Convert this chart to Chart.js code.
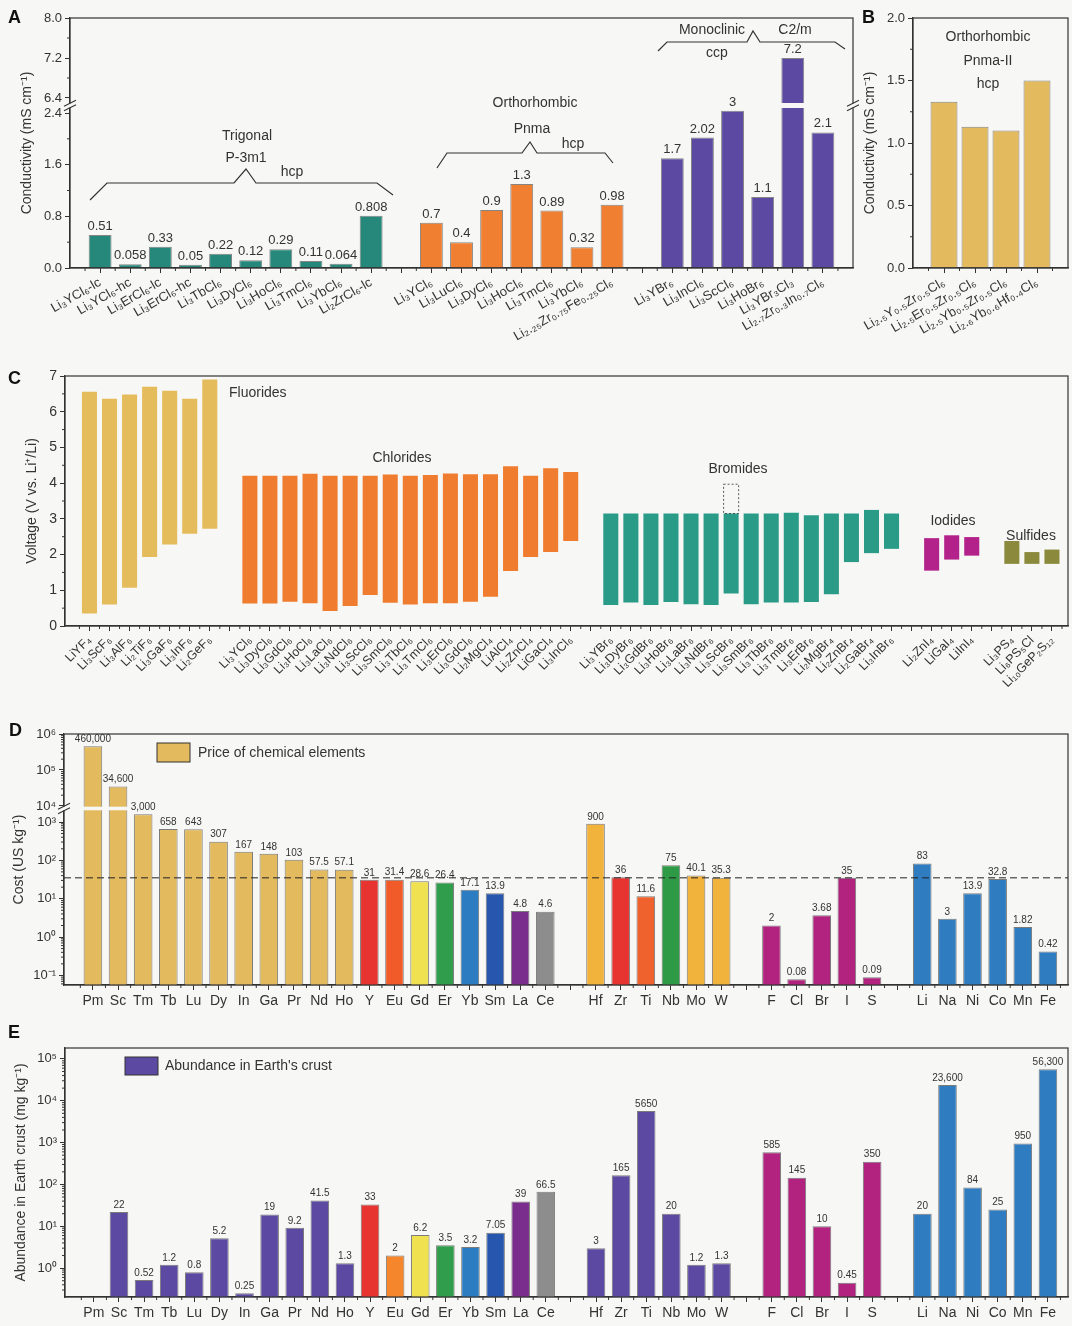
<!DOCTYPE html>
<html>
<head>
<meta charset="utf-8">
<script src="https://cdn.jsdelivr.net/npm/chart.js@4.4.1/dist/chart.umd.min.js"></script>
<style>
  html, body { margin: 0; padding: 0; background: #f7f7f5; }
  #page { position: relative; width: 1072px; height: 1326px; overflow: hidden; }
  canvas { position: absolute; }
  .tag { position: absolute; font: bold 18px "Liberation Sans", Arial, sans-serif; color: #111; line-height: 18px; }
</style>
</head>
<body>
<div id="page">
  <canvas id="cA" width="862" height="360" style="left:0;top:0;width:862px;height:360px"></canvas>
  <canvas id="cB" width="210" height="360" style="left:862px;top:0;width:210px;height:360px"></canvas>
  <canvas id="cC" width="1072" height="355" style="left:0;top:365px;width:1072px;height:355px"></canvas>
  <canvas id="cD" width="1072" height="300" style="left:0;top:720px;width:1072px;height:300px"></canvas>
  <canvas id="cE" width="1072" height="306" style="left:0;top:1020px;width:1072px;height:306px"></canvas>
  <div class="tag" style="left:8px;top:8px">A</div>
  <div class="tag" style="left:862px;top:8px">B</div>
  <div class="tag" style="left:8px;top:369px">C</div>
  <div class="tag" style="left:9px;top:721px">D</div>
  <div class="tag" style="left:8px;top:1023px">E</div>
</div>
<script>
// ---------------- data ----------------
// A: ionic conductivity (mS cm-1) of halide electrolytes, grouped by structure
const trigonalNames = ['Li₃YCl₆-lc', 'Li₃YCl₆-hc', 'Li₃ErCl₆-lc', 'Li₃ErCl₆-hc', 'Li₃TbCl₆', 'Li₃DyCl₆', 'Li₃HoCl₆', 'Li₃TmCl₆', 'Li₃YbCl₆', 'Li₂ZrCl₆-lc'];
const trigonalValues = [0.51, 0.058, 0.33, 0.05, 0.22, 0.12, 0.29, 0.11, 0.064, 0.808];
const orthoNames = ['Li₃YCl₆', 'Li₃LuCl₆', 'Li₃DyCl₆', 'Li₃HoCl₆', 'Li₃TmCl₆', 'Li₃YbCl₆', 'Li₂.₂₅Zr₀.₇₅Fe₀.₂₅Cl₆'];
const orthoValues = [0.7, 0.4, 0.9, 1.3, 0.89, 0.32, 0.98];
const monoNames = ['Li₃YBr₆', 'Li₃InCl₆', 'Li₃ScCl₆', 'Li₃HoBr₆', 'Li₃YBr₃Cl₃', 'Li₂.₇Zr₀.₃In₀.₇Cl₆'];
const monoValues = [1.7, 2.02, 3, 1.1, 7.2, 2.1];
const condTicksA = [0, 0.8, 1.6, 2.4, 6.4, 7.2, 8.0];

// B: Pnma-II orthorhombic phases
const pnma2Names = ['Li₂.₅Y₀.₅Zr₀.₅Cl₆', 'Li₂.₅Er₀.₅Zr₀.₅Cl₆', 'Li₂.₅Yb₀.₅Zr₀.₅Cl₆', 'Li₂.₆Yb₀.₆Hf₀.₄Cl₆'];
const pnma2Values = [1.33, 1.13, 1.10, 1.50];
const condTicksB = [0, 0.5, 1.0, 1.5, 2.0];

// C: electrochemical stability windows (V vs. Li+/Li)
const fluorideNames = ['LiYF₄', 'Li₃ScF₆', 'Li₃AlF₆', 'Li₂TiF₆', 'Li₃GaF₆', 'Li₃InF₆', 'Li₂GeF₆'];
const fluorideLow = [0.35, 0.60, 1.07, 1.93, 2.28, 2.58, 2.72];
const fluorideHigh = [6.56, 6.36, 6.48, 6.70, 6.59, 6.36, 6.90];
const chlorideNames = ['Li₃YCl₆', 'Li₃DyCl₆', 'Li₃GdCl₆', 'Li₃HoCl₆', 'Li₃LaCl₆', 'Li₃NdCl₆', 'Li₃ScCl₆', 'Li₃SmCl₆', 'Li₃TbCl₆', 'Li₃TmCl₆', 'Li₃ErCl₆', 'Li₃GdCl₆', 'Li₂MgCl₄', 'LiAlCl₄', 'Li₂ZnCl₄', 'LiGaCl₄', 'Li₃InCl₆'];
const chlorideLow = [0.63, 0.63, 0.68, 0.64, 0.42, 0.56, 0.87, 0.65, 0.60, 0.64, 0.64, 0.68, 0.82, 1.54, 1.93, 2.07, 2.38];
const chlorideHigh = [4.21, 4.21, 4.21, 4.26, 4.21, 4.21, 4.21, 4.24, 4.21, 4.23, 4.27, 4.25, 4.25, 4.47, 4.21, 4.42, 4.31];
const bromideNames = ['Li₃YBr₆', 'Li₃DyBr₆', 'Li₃GdBr₆', 'Li₃HoBr₆', 'Li₃LaBr₆', 'Li₃NdBr₆', 'Li₃ScBr₆', 'Li₃SmBr₆', 'Li₃TbBr₆', 'Li₃TmBr₆', 'Li₃ErBr₆', 'Li₂MgBr₄', 'Li₂ZnBr₄', 'Li₂GaBr₄', 'Li₃InBr₆'];
const bromideLow = [0.59, 0.66, 0.59, 0.67, 0.61, 0.59, 0.91, 0.61, 0.66, 0.66, 0.67, 0.89, 1.79, 2.04, 2.16];
const bromideHigh = [3.15, 3.15, 3.15, 3.15, 3.15, 3.15, 3.15, 3.15, 3.15, 3.17, 3.10, 3.15, 3.15, 3.25, 3.15];
const scBromideExtendedHigh = 3.97;   // Li3ScBr6 upper limit (dashed)
const iodideNames = ['Li₂ZnI₄', 'LiGaI₄', 'LiInI₄'];
const iodideLow = [1.55, 1.86, 1.97];
const iodideHigh = [2.46, 2.54, 2.49];
const sulfideNames = ['Li₃PS₄', 'Li₆PS₅Cl', 'Li₁₀GeP₂S₁₂'];
const sulfideLow = [1.74, 1.74, 1.74];
const sulfideHigh = [2.38, 2.07, 2.14];
const voltTicks = [0, 1, 2, 3, 4, 5, 6, 7];

// D / E: element price (US$ kg-1) and crustal abundance (mg kg-1)
const rareEarthEls = ['Pm', 'Sc', 'Tm', 'Tb', 'Lu', 'Dy', 'In', 'Ga', 'Pr', 'Nd', 'Ho', 'Y', 'Eu', 'Gd', 'Er', 'Yb', 'Sm', 'La', 'Ce'];
const transitionEls = ['Hf', 'Zr', 'Ti', 'Nb', 'Mo', 'W'];
const anionEls = ['F', 'Cl', 'Br', 'I', 'S'];
const commonEls = ['Li', 'Na', 'Ni', 'Co', 'Mn', 'Fe'];
const rareEarthPrice = [460000, 34600, 3000, 658, 643, 307, 167, 148, 103, 57.5, 57.1, 31, 31.4, 28.6, 26.4, 17.1, 13.9, 4.8, 4.6];
const transitionPrice = [900, 36, 11.6, 75, 40.1, 35.3];
const anionPrice = [2, 0.08, 3.68, 35, 0.09];
const commonPrice = [83, 3, 13.9, 32.8, 1.82, 0.42];
const priceReference = 35;
const rareEarthAbund = [null, 22, 0.52, 1.2, 0.8, 5.2, 0.25, 19, 9.2, 41.5, 1.3, 33, 2, 6.2, 3.5, 3.2, 7.05, 39, 66.5];
const transitionAbund = [3, 165, 5650, 20, 1.2, 1.3];
const anionAbund = [585, 145, 10, 0.45, 350];
const commonAbund = [20, 23600, 84, 25, 950, 56300];
const priceTicks = [0.1, 1, 10, 100, 1000, 10000, 100000, 1000000];
const abundTicks = [1, 10, 100, 1000, 10000, 100000];

// ---------------- styles ----------------
const INK = '#333333';
const BG = '#f7f7f5';
const FONT = '"Liberation Sans", Arial, Helvetica, sans-serif';
const TEAL = '#25887b', ORANGE = '#f07f31', PURPLE = '#5c4aa2', GOLD = '#e3ba5e';
const C_F = '#e5bc5c', C_CL = '#f07c2f', C_BR = '#2a9b87', C_I = '#b2228a', C_S = '#8b8a3c';
const RE_PRICE_COLORS = [GOLD, GOLD, GOLD, GOLD, GOLD, GOLD, GOLD, GOLD, GOLD, GOLD, GOLD,
  '#e83430', '#f15b2a', '#efe14f', '#2f9d4b', '#2c7cc2', '#2656ae', '#7a2d8c', '#8d8d8d'];
const RE_ABUND_COLORS = [PURPLE, PURPLE, PURPLE, PURPLE, PURPLE, PURPLE, PURPLE, PURPLE, PURPLE, PURPLE, PURPLE,
  '#e83430', '#f5862b', '#efe14f', '#2f9d4b', '#2c7cc2', '#2656ae', '#7a2d8c', '#8d8d8d'];
const TM_PRICE_COLORS = ['#f2b33d', '#e83430', '#f0622d', '#2f9a45', '#f2b33d', '#f2b33d'];
const ANION_COLOR = '#b1237f', COMMON_COLOR = '#2f7cc1';

Chart.defaults.font.family = FONT;
Chart.defaults.color = INK;
Chart.defaults.animation = false;

// Linear/log axis made of stacked segments; used for broken axes and
// for category-like positioning with explicit tick values.
class SegmentedScale extends Chart.LinearScale {
  static id = 'segmented';
  static defaults = {};
  determineDataLimits() { this.min = this.options.min; this.max = this.options.max; }
  buildTicks() { return (this.options.tickValues || []).map(v => ({ value: v })); }
  _tf(v) { return this.options.log ? Math.log10(v > 0 ? v : this.options.min) : v; }
  _segs() {
    const o = this.options;
    return o.segments || [{ from: this._tf(o.min), to: this._tf(o.max), size: 1 }];
  }
  getPixelForValue(value) {
    if (value === null || value === undefined || Number.isNaN(+value)) return NaN;
    const t = this._tf(+value);
    const segs = this._segs();
    const total = segs.reduce((s, g) => s + g.size, 0);
    let acc = 0, dec = 1;
    for (let i = 0; i < segs.length; i++) {
      const g = segs[i];
      if (t <= g.to || i === segs.length - 1) { dec = (acc + (t - g.from) / (g.to - g.from) * g.size) / total; break; }
      acc += g.size;
    }
    return this.getPixelForDecimal(dec);
  }
  getValueForPixel(pixel) {
    const dec = this.getDecimalForPixel(pixel);
    const segs = this._segs();
    const total = segs.reduce((s, g) => s + g.size, 0);
    let acc = 0, t = segs[segs.length - 1].to;
    for (const g of segs) {
      const f = g.size / total;
      if (dec <= acc + f) { t = g.from + (dec - acc) / f * (g.to - g.from); break; }
      acc += f;
    }
    return this.options.log ? Math.pow(10, t) : t;
  }
}
Chart.register(SegmentedScale);

// ---------------- helpers ----------------
function layoutGroups(groups) {
  // groups sit on consecutive integer slots with one empty slot between them
  const points = [], colors = [], names = {};
  let pos = 0;
  groups.forEach((g, gi) => {
    if (gi > 0) { names[pos] = ''; pos += 1; }
    g.names.forEach((n, i) => {
      names[pos] = n;
      points.push({ x: pos, y: g.values[i] });
      colors.push(Array.isArray(g.color) ? g.color[i] : g.color);
      pos += 1;
    });
  });
  return { points, colors, names, last: pos - 1 };
}
const steps = (a, b, s) => { const out = []; for (let v = a; v <= b + 1e-9; v += s) out.push(+v.toFixed(6)); return out; };
function logMinors(lo, hi) {
  const out = [];
  for (let d = -3; d <= 6; d++) for (let m = 2; m <= 9; m++) { const v = m * Math.pow(10, d); if (v > lo && v < hi) out.push(v); }
  return out;
}
const SUP = { '-': '⁻', '0': '⁰', '1': '¹', '2': '²', '3': '³', '4': '⁴', '5': '⁵', '6': '⁶', '7': '⁷', '8': '⁸', '9': '⁹' };
const powLabel = v => '10' + String(Math.round(Math.log10(v))).split('').map(c => SUP[c]).join('');

function xAxis(layout, min, max, opts) {
  return {
    type: 'segmented', position: 'bottom', min, max, offset: false,
    tickValues: steps(0, layout.last, 1),
    grid: { offset: false, drawOnChartArea: false, drawTicks: true, tickLength: 5, color: INK, tickColor: INK },
    border: { display: true, color: INK, width: 1.2 },
    ticks: Object.assign({ autoSkip: false, color: INK, padding: 2, callback: v => layout.names[v] || '' }, opts.ticks),
    afterFit: s => { s.height = opts.height; s.paddingLeft = 0; s.paddingRight = 0; }
  };
}
function yAxis(opts) {
  return Object.assign({
    type: 'segmented', position: 'left',
    grid: { drawOnChartArea: false, drawTicks: true, tickLength: 5, color: INK, tickColor: INK },
    border: { display: true, color: INK, width: 1.2 },
    title: { display: true, text: opts.title, font: { size: 14 }, color: INK, padding: { top: opts.titlePad, bottom: 0 } },
    afterFit: s => { s.width = opts.width; s.paddingTop = 0; s.paddingBottom = 0; }
  }, opts.scale, {
    ticks: Object.assign({ autoSkip: false, color: INK, padding: 3, font: { size: 13 } }, opts.ticks)
  });
}

function decor(spec) {
  return {
    id: 'decor',
    afterDatasetsDraw(chart) {
      const { ctx, chartArea: ca, scales } = chart;
      const xs = scales.x, ys = scales.y;
      ctx.save();
      (spec.breaks || []).forEach(b => {
        const py = ys.getPixelForValue(b.value);
        ctx.fillStyle = BG;
        ctx.fillRect(ca.left + 1, py - b.half, ca.right - ca.left - 2, b.half * 2);
      });
      ctx.strokeStyle = INK; ctx.lineWidth = 1.2;
      ctx.strokeRect(ca.left, ca.top, ca.right - ca.left, ca.bottom - ca.top);
      ctx.lineWidth = 1;
      ctx.beginPath();
      (spec.minorX || []).forEach(v => { const px = xs.getPixelForValue(v); ctx.moveTo(px, ca.bottom); ctx.lineTo(px, ca.bottom + 3); });
      (spec.minorY || []).forEach(v => { const py = ys.getPixelForValue(v); ctx.moveTo(ca.left - 3, py); ctx.lineTo(ca.left, py); });
      ctx.stroke();
      (spec.breaks || []).forEach(b => {
        const py = ys.getPixelForValue(b.value);
        (b.sides || ['left']).forEach(side => {
          const x = side === 'left' ? ca.left : ca.right;
          ctx.fillStyle = BG;
          ctx.fillRect(x - 2, py - 2, 4, 4);
          ctx.beginPath();
          [-2.2, 2.2].forEach(d => { ctx.moveTo(x - 6, py + d + 3); ctx.lineTo(x + 6, py + d - 3); });
          ctx.strokeStyle = INK; ctx.lineWidth = 1.1; ctx.stroke();
        });
      });
      if (spec.labels) {
        const meta = chart.getDatasetMeta(0);
        ctx.font = spec.labelFont; ctx.fillStyle = INK;
        ctx.textAlign = 'center'; ctx.textBaseline = 'bottom';
        meta.data.forEach((el, i) => {
          const t = spec.labels[i];
          if (t === null || t === undefined) return;
          ctx.fillText(t, el.x, el.y - spec.labelGap);
        });
      }
      if (spec.extra) spec.extra(chart, ctx);
      ctx.restore();
    }
  };
}
function drawTexts(ctx, items, size) {
  ctx.font = size + 'px ' + FONT; ctx.fillStyle = INK;
  ctx.textBaseline = 'middle';
  items.forEach(([t, x, y, align]) => { ctx.textAlign = align || 'center'; ctx.fillText(t, x, y); });
}
function drawPolys(ctx, polys) {
  ctx.strokeStyle = INK; ctx.lineWidth = 1.2; ctx.lineJoin = 'miter';
  polys.forEach(p => { ctx.beginPath(); p.forEach(([x, y], i) => i ? ctx.lineTo(x, y) : ctx.moveTo(x, y)); ctx.stroke(); });
}
const baseOptions = pad => ({
  responsive: false, animation: false,
  layout: { padding: pad },
  plugins: { legend: { display: false }, tooltip: { enabled: false } }
});

// ---------------- A ----------------
const layA = layoutGroups([
  { names: trigonalNames, values: trigonalValues, color: TEAL },
  { names: orthoNames, values: orthoValues, color: ORANGE },
  { names: monoNames, values: monoValues, color: PURPLE }
]);
new Chart(document.getElementById('cA'), {
  type: 'bar',
  data: { datasets: [{ data: layA.points, backgroundColor: layA.colors, borderColor: 'rgba(40,40,40,0.55)', borderWidth: 1,
    barPercentage: 0.76, categoryPercentage: 1 }] },
  options: Object.assign(baseOptions({ top: 18, right: 9, left: 0, bottom: 0 }), {
    scales: {
      x: xAxis(layA, -1, layA.last + 1, { height: 92, ticks: { minRotation: 30, maxRotation: 30, font: { size: 13 } } }),
      y: yAxis({
        title: 'Conductivity (mS cm⁻¹)', titlePad: 19, width: 70,
        scale: { min: 0, max: 8, tickValues: condTicksA,
          segments: [{ from: 0, to: 2.4, size: 155 }, { from: 2.4, to: 6.4, size: 15 }, { from: 6.4, to: 8, size: 80 }] },
        ticks: { callback: v => v.toFixed(1) }
      })
    }
  }),
  plugins: [decor({
    minorX: steps(-0.5, layA.last + 0.5, 1),
    minorY: [0.4, 1.2, 2.0, 6.8, 7.6],
    breaks: [{ value: 4.4, half: 2.5, sides: ['left', 'right'] }],
    labels: layA.points.map(p => String(p.y)), labelFont: '13px ' + FONT, labelGap: 2,
    extra: (chart, ctx) => {
      drawPolys(ctx, [
        [[90, 200], [107, 183], [234, 183], [246, 169], [256, 183], [377, 183], [393, 195]],
        [[437, 168], [447, 153], [522, 153], [530, 142], [537, 153], [605, 153], [613, 163]],
        [[658, 51], [667, 42], [747, 42], [753, 31], [760, 42], [835, 42], [845, 49]]
      ]);
      drawTexts(ctx, [
        ['Trigonal', 247, 136], ['P-3m1', 246, 158], ['hcp', 292, 172],
        ['Orthorhombic', 535, 103], ['Pnma', 532, 129], ['hcp', 573, 144],
        ['Monoclinic', 712, 30], ['C2/m', 795, 30], ['ccp', 717, 53]
      ], 14);
    }
  })]
});

// ---------------- B ----------------
const layB = layoutGroups([{ names: pnma2Names, values: pnma2Values, color: GOLD }]);
new Chart(document.getElementById('cB'), {
  type: 'bar',
  data: { datasets: [{ data: layB.points, backgroundColor: layB.colors, borderColor: 'rgba(40,40,40,0.55)', borderWidth: 1,
    barPercentage: 0.87, categoryPercentage: 1 }] },
  options: Object.assign(baseOptions({ top: 18, right: 4, left: 0, bottom: 0 }), {
    scales: {
      x: xAxis(layB, -1, layB.last + 1, { height: 92, ticks: { minRotation: 30, maxRotation: 30, font: { size: 13 } } }),
      y: yAxis({
        title: 'Conductivity (mS cm⁻¹)', titlePad: 0, width: 51,
        scale: { min: 0, max: 2, tickValues: condTicksB },
        ticks: { callback: v => v.toFixed(1) }
      })
    }
  }),
  plugins: [decor({
    minorX: steps(-0.5, layB.last + 0.5, 1),
    minorY: [0.25, 0.75, 1.25, 1.75],
    extra: (chart, ctx) => drawTexts(ctx, [['Orthorhombic', 126, 37], ['Pnma-II', 126, 61], ['hcp', 126, 84]], 14)
  })]
});

// ---------------- C ----------------
const pairs = (lo, hi) => lo.map((v, i) => [v, hi[i]]);
const layC = layoutGroups([
  { names: fluorideNames, values: pairs(fluorideLow, fluorideHigh), color: C_F },
  { names: chlorideNames, values: pairs(chlorideLow, chlorideHigh), color: C_CL },
  { names: bromideNames, values: pairs(bromideLow, bromideHigh), color: C_BR },
  { names: iodideNames, values: pairs(iodideLow, iodideHigh), color: C_I },
  { names: sulfideNames, values: pairs(sulfideLow, sulfideHigh), color: C_S }
]);
const scBromideIndex = fluorideNames.length + chlorideNames.length + bromideNames.indexOf('Li₃ScBr₆');
new Chart(document.getElementById('cC'), {
  type: 'bar',
  data: { datasets: [{ data: layC.points, backgroundColor: layC.colors, borderWidth: 0,
    barPercentage: 0.75, categoryPercentage: 1 }] },
  options: Object.assign(baseOptions({ top: 11, right: 4, left: 0, bottom: 0 }), {
    scales: {
      x: xAxis(layC, -1.22, layC.last + 0.8, { height: 94, ticks: { minRotation: 45, maxRotation: 45, font: { size: 12.5 } } }),
      y: yAxis({
        title: 'Voltage (V vs. Li⁺/Li)', titlePad: 24, width: 65,
        scale: { min: 0, max: 7, tickValues: voltTicks },
        ticks: { callback: v => String(v), font: { size: 14 } }
      })
    }
  }),
  plugins: [decor({
    minorX: steps(-0.5, layC.last + 0.5, 1),
    minorY: steps(0.5, 6.5, 1),
    extra: (chart, ctx) => {
      const el = chart.getDatasetMeta(0).data[scBromideIndex];
      const ys = chart.scales.y;
      const top = ys.getPixelForValue(scBromideExtendedHigh);
      const bot = ys.getPixelForValue(layC.points[scBromideIndex].y[1]);
      ctx.setLineDash([2, 2]); ctx.strokeStyle = INK; ctx.lineWidth = 0.8;
      ctx.strokeRect(el.x - el.width / 2, top, el.width, bot - top);
      ctx.setLineDash([]);
      drawTexts(ctx, [['Fluorides', 229, 28, 'left'], ['Chlorides', 402, 93], ['Bromides', 738, 104],
        ['Iodides', 953, 156], ['Sulfides', 1031, 171]], 14);
    }
  })]
});

// ---------------- D ----------------
const layD = layoutGroups([
  { names: rareEarthEls, values: rareEarthPrice, color: RE_PRICE_COLORS },
  { names: transitionEls, values: transitionPrice, color: TM_PRICE_COLORS },
  { names: anionEls, values: anionPrice, color: ANION_COLOR },
  { names: commonEls, values: commonPrice, color: COMMON_COLOR }
]);
const priceFmt = v => v >= 1000 ? v.toLocaleString('en-US') : String(v);
const priceMin = Math.pow(10, -1.25);
new Chart(document.getElementById('cD'), {
  type: 'bar',
  data: { datasets: [{ data: layD.points, backgroundColor: layD.colors, borderColor: 'rgba(40,40,40,0.6)', borderWidth: 1,
    barPercentage: 0.74, categoryPercentage: 1 }] },
  options: Object.assign(baseOptions({ top: 14, right: 4, left: 0, bottom: 0 }), {
    scales: {
      x: xAxis(layD, -1.15, layD.last + 0.8, { height: 35, ticks: { font: { size: 14 }, padding: 3, minRotation: 0, maxRotation: 0 } }),
      y: yAxis({
        title: 'Cost (US kg⁻¹)', titlePad: 11, width: 64,
        scale: { min: priceMin, max: 1e6, log: true, tickValues: priceTicks,
          segments: [{ from: -1.25, to: 3, size: 163 }, { from: 3, to: 4, size: 16 }, { from: 4, to: 6, size: 72 }] },
        ticks: { callback: v => powLabel(v) }
      })
    }
  }),
  plugins: [decor({
    minorX: steps(-0.5, layD.last + 0.5, 1),
    minorY: [...logMinors(priceMin, 1000), ...logMinors(10000, 1e6)],
    breaks: [{ value: 7000, half: 1.8, sides: ['left'] }],
    labels: layD.points.map(p => priceFmt(p.y)), labelFont: '10px ' + FONT, labelGap: 2,
    extra: (chart, ctx) => {
      const ca = chart.chartArea, py = chart.scales.y.getPixelForValue(priceReference);
      ctx.setLineDash([7, 4]); ctx.strokeStyle = '#222'; ctx.lineWidth = 1;
      ctx.beginPath(); ctx.moveTo(ca.left, py); ctx.lineTo(ca.right, py); ctx.stroke();
      ctx.setLineDash([]);
      ctx.fillStyle = GOLD; ctx.fillRect(157, 23, 33, 19);
      ctx.strokeStyle = INK; ctx.lineWidth = 1; ctx.strokeRect(157, 23, 33, 19);
      drawTexts(ctx, [['Price of chemical elements', 198, 33, 'left']], 14);
    }
  })]
});

// ---------------- E ----------------
const layE = layoutGroups([
  { names: rareEarthEls, values: rareEarthAbund, color: RE_ABUND_COLORS },
  { names: transitionEls, values: transitionAbund, color: PURPLE },
  { names: anionEls, values: anionAbund, color: ANION_COLOR },
  { names: commonEls, values: commonAbund, color: COMMON_COLOR }
]);
const abundFmt = v => v === null ? null : (v >= 10000 ? v.toLocaleString('en-US') : String(v));
const abundMin = Math.pow(10, -0.69), abundMax = Math.pow(10, 5.26);
new Chart(document.getElementById('cE'), {
  type: 'bar',
  data: { datasets: [{ data: layE.points, backgroundColor: layE.colors, borderColor: 'rgba(40,40,40,0.6)', borderWidth: 1,
    barPercentage: 0.74, categoryPercentage: 1 }] },
  options: Object.assign(baseOptions({ top: 28, right: 4, left: 0, bottom: 0 }), {
    scales: {
      x: xAxis(layE, -1.15, layE.last + 0.8, { height: 29, ticks: { font: { size: 14 }, padding: 3, minRotation: 0, maxRotation: 0 } }),
      y: yAxis({
        title: 'Abundance in Earth crust (mg kg⁻¹)', titlePad: 13, width: 65,
        scale: { min: abundMin, max: abundMax, log: true, tickValues: abundTicks },
        ticks: { callback: v => powLabel(v) }
      })
    }
  }),
  plugins: [decor({
    minorX: steps(-0.5, layE.last + 0.5, 1),
    minorY: logMinors(abundMin, abundMax),
    labels: layE.points.map(p => abundFmt(p.y)), labelFont: '10px ' + FONT, labelGap: 2,
    extra: (chart, ctx) => {
      ctx.fillStyle = PURPLE; ctx.fillRect(125, 37, 33, 18);
      ctx.strokeStyle = INK; ctx.lineWidth = 1; ctx.strokeRect(125, 37, 33, 18);
      drawTexts(ctx, [['Abundance in Earth\'s crust', 165, 46, 'left']], 14);
    }
  })]
});
</script>
</body>
</html>
